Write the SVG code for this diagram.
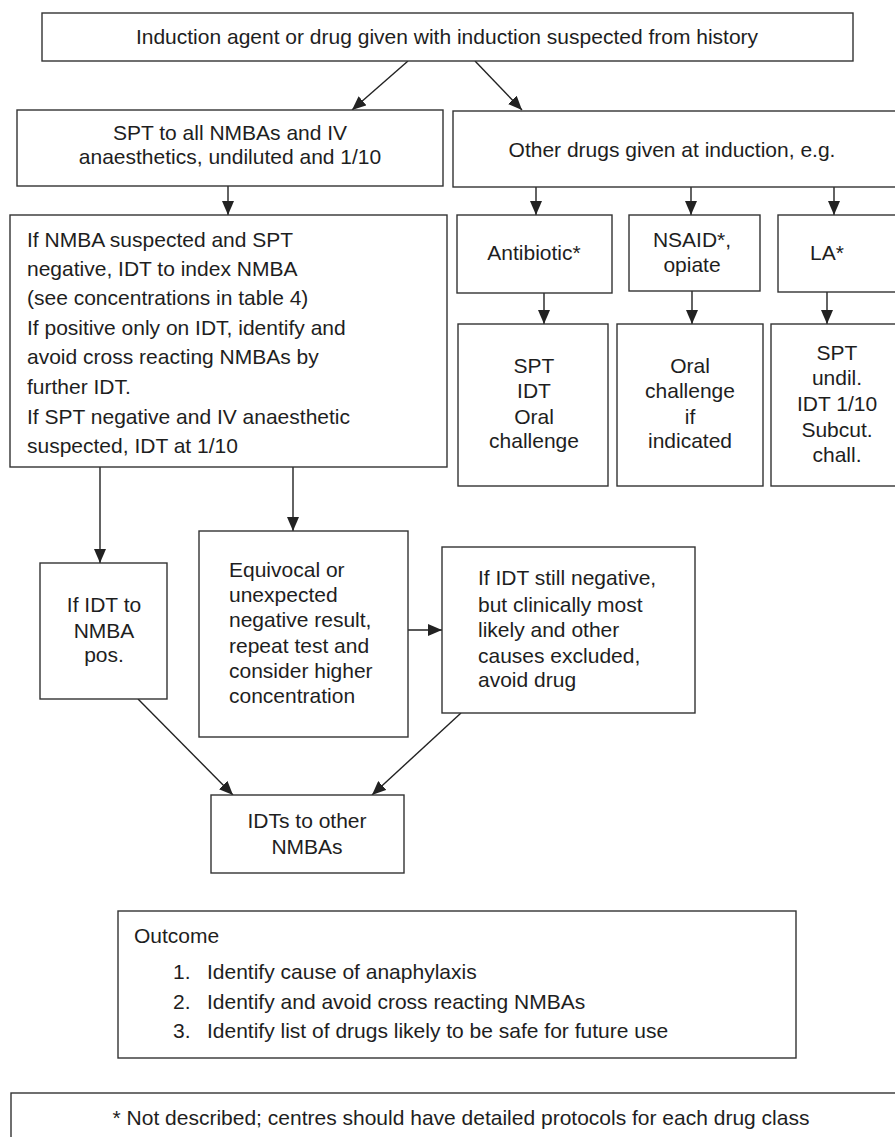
<svg xmlns="http://www.w3.org/2000/svg" width="895" height="1137" viewBox="0 0 895 1137">
<style>
.box{fill:#fff;stroke:#333;stroke-width:1.4}
.t{font-family:"Liberation Sans",Arial,sans-serif;font-size:21px;fill:#1e1e1e}
.c{text-anchor:middle}
.con{stroke:#222;stroke-width:1.4;fill:none}
</style>
<defs>
<marker id="ah" viewBox="0 0 14 12" refX="14" refY="6" markerWidth="14" markerHeight="12" markerUnits="userSpaceOnUse" orient="auto">
<path d="M0,0 L14,6 L0,12 z" fill="#222"/>
</marker>
</defs>
<rect width="895" height="1137" fill="#fff"/>
<g id="connectors">
<line class="con" x1="408" y1="61" x2="352" y2="110" marker-end="url(#ah)"/>
<line class="con" x1="475" y1="61" x2="522" y2="110" marker-end="url(#ah)"/>
<line class="con" x1="228" y1="186" x2="228" y2="215" marker-end="url(#ah)"/>
<line class="con" x1="536" y1="187" x2="536" y2="215" marker-end="url(#ah)"/>
<line class="con" x1="691" y1="187" x2="691" y2="215" marker-end="url(#ah)"/>
<line class="con" x1="834" y1="187" x2="834" y2="215" marker-end="url(#ah)"/>
<line class="con" x1="544" y1="293" x2="544" y2="324" marker-end="url(#ah)"/>
<line class="con" x1="692" y1="291" x2="692" y2="324" marker-end="url(#ah)"/>
<line class="con" x1="827" y1="292" x2="827" y2="324" marker-end="url(#ah)"/>
<line class="con" x1="100" y1="467" x2="100" y2="563" marker-end="url(#ah)"/>
<line class="con" x1="293" y1="467" x2="293" y2="531" marker-end="url(#ah)"/>
<line class="con" x1="408" y1="630" x2="442" y2="630" marker-end="url(#ah)"/>
<line class="con" x1="138" y1="699" x2="233" y2="795" marker-end="url(#ah)"/>
<line class="con" x1="461" y1="713" x2="372" y2="795" marker-end="url(#ah)"/>
</g>
<g id="top">
<rect class="box" x="42" y="13" width="811" height="48"/>
<text class="t c" x="447" y="44">Induction agent or drug given with induction suspected from history</text>
</g>
<g id="spt">
<rect class="box" x="17" y="110" width="426" height="76"/>
<text class="t c" x="230" y="140">SPT to all NMBAs and IV</text>
<text class="t c" x="230" y="164">anaesthetics, undiluted and 1/10</text>
</g>
<g id="other">
<rect class="box" x="453" y="111" width="446" height="76"/>
<text class="t c" x="672" y="157">Other drugs given at induction, e.g.</text>
</g>
<g id="nmba">
<rect class="box" x="10" y="215" width="437" height="252"/>
<text class="t" x="27" y="247">If NMBA suspected and SPT</text>
<text class="t" x="27" y="276">negative, IDT to index NMBA</text>
<text class="t" x="27" y="305">(see concentrations in table 4)</text>
<text class="t" x="27" y="335">If positive only on IDT, identify and</text>
<text class="t" x="27" y="364">avoid cross reacting NMBAs by</text>
<text class="t" x="27" y="394">further IDT.</text>
<text class="t" x="27" y="424">If SPT negative and IV anaesthetic</text>
<text class="t" x="27" y="453">suspected, IDT at 1/10</text>
</g>
<g id="antibiotic">
<rect class="box" x="457" y="215" width="155" height="78"/>
<text class="t c" x="534" y="260">Antibiotic*</text>
</g>
<g id="nsaid">
<rect class="box" x="629" y="215" width="131" height="76"/>
<text class="t c" x="692" y="247">NSAID*,</text>
<text class="t c" x="692" y="272">opiate</text>
</g>
<g id="la">
<rect class="box" x="778" y="215" width="121" height="77"/>
<text class="t c" x="827" y="260">LA*</text>
</g>
<g id="antibiotic-tests">
<rect class="box" x="458" y="324" width="150" height="162"/>
<text class="t c" x="534" y="373">SPT</text>
<text class="t c" x="534" y="398">IDT</text>
<text class="t c" x="534" y="424">Oral</text>
<text class="t c" x="534" y="448">challenge</text>
</g>
<g id="nsaid-tests">
<rect class="box" x="617" y="324" width="146" height="162"/>
<text class="t c" x="690" y="373">Oral</text>
<text class="t c" x="690" y="398">challenge</text>
<text class="t c" x="690" y="424">if</text>
<text class="t c" x="690" y="448">indicated</text>
</g>
<g id="la-tests">
<rect class="box" x="771" y="324" width="128" height="162"/>
<text class="t c" x="837" y="360">SPT</text>
<text class="t c" x="837" y="385">undil.</text>
<text class="t c" x="837" y="411">IDT 1/10</text>
<text class="t c" x="837" y="437">Subcut.</text>
<text class="t c" x="837" y="462">chall.</text>
</g>
<g id="idt-pos">
<rect class="box" x="40" y="563" width="127" height="136"/>
<text class="t c" x="104" y="612">If IDT to</text>
<text class="t c" x="104" y="638">NMBA</text>
<text class="t c" x="104" y="662">pos.</text>
</g>
<g id="equivocal">
<rect class="box" x="199" y="531" width="209" height="206"/>
<text class="t" x="229" y="577">Equivocal or</text>
<text class="t" x="229" y="602">unexpected</text>
<text class="t" x="229" y="627">negative result,</text>
<text class="t" x="229" y="653">repeat test and</text>
<text class="t" x="229" y="678">consider higher</text>
<text class="t" x="229" y="703">concentration</text>
</g>
<g id="idt-still">
<rect class="box" x="442" y="547" width="253" height="166"/>
<text class="t" x="478" y="585">If IDT still negative,</text>
<text class="t" x="478" y="612">but clinically most</text>
<text class="t" x="478" y="637">likely and other</text>
<text class="t" x="478" y="663">causes excluded,</text>
<text class="t" x="478" y="687">avoid drug</text>
</g>
<g id="idts-other">
<rect class="box" x="211" y="795" width="193" height="78"/>
<text class="t c" x="307" y="828">IDTs to other</text>
<text class="t c" x="307" y="854">NMBAs</text>
</g>
<g id="outcome">
<rect class="box" x="118" y="911" width="678" height="147"/>
<text class="t" x="134" y="943">Outcome</text>
<text class="t" x="173" y="979">1.</text>
<text class="t" x="207" y="979">Identify cause of anaphylaxis</text>
<text class="t" x="173" y="1009">2.</text>
<text class="t" x="207" y="1009">Identify and avoid cross reacting NMBAs</text>
<text class="t" x="173" y="1038">3.</text>
<text class="t" x="207" y="1038">Identify list of drugs likely to be safe for future use</text>
</g>
<g id="footnote">
<rect class="box" x="11" y="1093" width="890" height="60"/>
<text class="t c" x="461" y="1125">* Not described; centres should have detailed protocols for each drug class</text>
</g>
</svg>
